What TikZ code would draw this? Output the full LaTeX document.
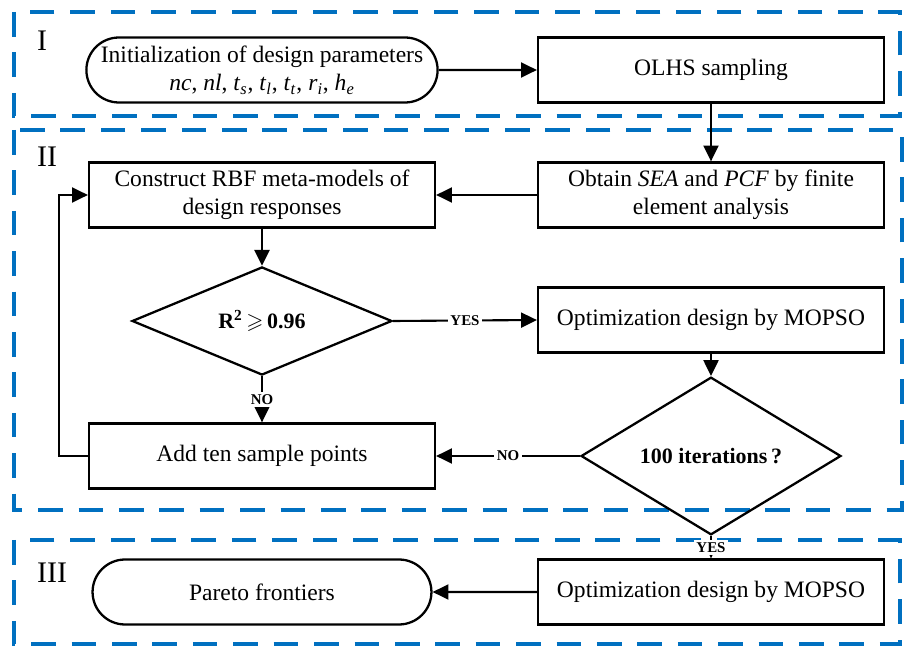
\documentclass[tikz,border=0pt]{standalone}
\usepackage{fontspec}
\setmainfont{Liberation Serif}
\usepackage{amssymb}
\usepackage{xcolor}
\usetikzlibrary{shapes.misc, shapes.geometric, arrows.meta}

\definecolor{regionblue}{RGB}{0,112,192}
\newcommand{\ivar}[2]{\textit{#1}\textsubscript{\textit{#2}}}

\begin{document}
\begin{tikzpicture}[x=0.02cm, y=-0.02cm,
    font=\fontsize{13.4}{16}\selectfont,
    region/.style={draw=regionblue, line width=2pt, dash pattern=on 14pt off 9pt},
    regionlabel/.style={anchor=west, font=\fontsize{17}{17}\selectfont},
    procbox/.style={draw, line width=1.3pt, align=center, minimum width=6.92cm, minimum height=1.3cm, inner sep=2pt},
    termbox/.style={procbox, rounded rectangle},
    decision/.style={draw, diamond, line width=1.3pt, minimum width=5.2cm, minimum height=1.7cm, inner sep=0pt,
                     font=\fontsize{12.5}{14}\selectfont\bfseries},
    flow/.style={line width=1.2pt, -{Triangle[length=9pt, width=8.5pt]}},
    answer/.style={fill=white, inner sep=1.5pt, font=\fontsize{8.5}{9}\selectfont\bfseries}]

  \useasboundingbox (0,0) rectangle (907,648);

  % Dashed regions
  \draw[region] (14,12)  rectangle (900,116);
  \draw[region] (14,130) rectangle (902,510);
  \draw[region] (14,540) rectangle (900,644);
  \node[regionlabel] (labI)   at (31,41)  {I};
  \node[regionlabel] (labII)  at (31,157) {II};
  \node[regionlabel] (labIII) at (31,573) {III};

  % Region I
  \node[termbox] (init) at (262,70)
    {Initialization of design parameters\\
     \textit{nc}, \textit{nl}, \ivar{t}{s}, \ivar{t}{l}, \ivar{t}{t}, \ivar{r}{i}, \ivar{h}{e}};
  \node[procbox] (olhs) at (711,70) {OLHS sampling};

  % Region II
  \node[procbox] (fea)   at (711,195) {Obtain \textit{SEA} and \textit{PCF} by finite\\element analysis};
  \node[procbox] (rbf)   at (262,195) {Construct RBF meta-models of\\design responses};
  \node[decision] (rcheck) at (262,321) {R\textsuperscript{2}\,$\geqslant$\,0.96};
  \node[procbox] (mopso) at (711,320) {Optimization design by MOPSO};
  \node[procbox] (addpts) at (262,456) {Add ten sample points};
  \node[decision] (iter) at (711,456) {100 iterations\,?};

  % Region III
  \node[procbox] (mopsoend) at (711,592) {Optimization design by MOPSO};
  \node[termbox] (pareto)   at (262,592) {Pareto frontiers};

  % Flow
  \draw[flow] (init) -- (olhs);
  \draw[flow] (olhs) -- (fea);
  \draw[flow] (fea) -- (rbf);
  \draw[flow] (rbf) -- (rcheck);
  \draw[flow] (rcheck.east) -- node[answer] {YES} (mopso.west);
  \draw[flow] (rcheck.south) -- node[answer] {NO} (addpts.north);
  \draw[flow] (mopso) -- (iter.north);
  \draw[flow] (iter.west) -- node[answer] {NO} (addpts.east);
  \draw[flow] (addpts.west) -- ++(-29,0) |- (rbf.west);
  \draw[flow] (iter.south) -- node[answer] {YES} (mopsoend.north);
  \draw[flow] (mopsoend) -- (pareto);
\end{tikzpicture}
\end{document}
